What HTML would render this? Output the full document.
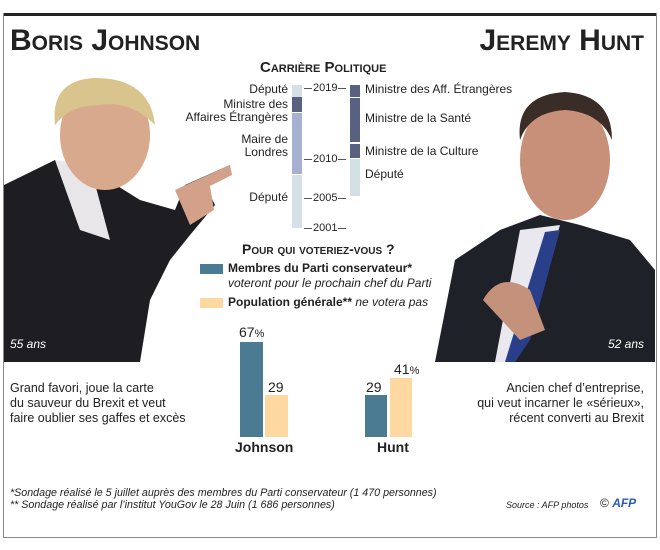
<!DOCTYPE html>
<html><head><meta charset="utf-8"><style>
body{margin:0;width:660px;height:550px;background:#fff;position:relative;overflow:hidden;font-family:"Liberation Sans",sans-serif;color:#222}
.a{position:absolute;white-space:nowrap}
.t{font-size:12px;line-height:13px}
.r{text-align:right}
.tk{position:absolute;height:1px;background:#555}
</style></head><body>
<div class="a" style="left:3px;top:13px;width:654px;height:3px;background:#222"></div>
<div class="a" style="left:3px;top:13px;width:652px;height:524px;border:1px solid #888;border-top:none"></div>
<svg class="a" style="left:0;top:0" width="660" height="550">
 <path d="M4 185 L55 160 L100 175 L140 200 L175 210 L185 185 L230 165 L225 178 L205 185 L215 205 L190 235 L170 260 L150 300 L140 362 L4 362 Z" fill="#1d1d22"/>
 <path d="M55 160 L90 165 L110 240 L80 230 Z" fill="#e8e6e8"/>
 <ellipse cx="105" cy="135" rx="45" ry="55" fill="#d9a98d"/>
 <path d="M55 125 Q50 80 95 78 Q150 78 155 125 Q130 100 100 105 Q70 105 55 125Z" fill="#d8c48c"/>
 <path d="M175 190 L230 165 L232 175 L210 186 L214 210 L190 225 Z" fill="#d3a18a"/>
 <path d="M435 362 L455 260 L500 230 L540 215 L580 225 L630 240 L655 270 L655 362 Z" fill="#1f2128"/>
 <path d="M520 230 L560 225 L530 330 L505 362 L495 362 Z" fill="#e8e8ee"/>
 <path d="M545 232 L560 230 L530 340 L515 362 L505 362 Z" fill="#2a3f8a"/>
 <ellipse cx="565" cy="160" rx="45" ry="60" fill="#c99079"/>
 <path d="M520 140 Q515 95 565 92 Q612 95 612 140 Q600 112 565 110 Q530 112 520 140Z" fill="#3a2c26"/>
 <path d="M483 300 Q500 270 530 290 L545 330 L520 340 Z" fill="#c4917b"/>
</svg>
<div class="a" style="left:10px;top:24px;font-size:30px;font-weight:bold;font-variant:small-caps">Boris Johnson</div>
<div class="a r" style="right:16px;top:24px;font-size:30px;font-weight:bold;font-variant:small-caps">Jeremy Hunt</div>
<div class="a" style="left:260px;top:59px;font-size:15px;font-weight:bold;font-variant:small-caps">Carrière Politique</div>

<div class="a" style="left:292px;top:85px;width:10px;height:12px;background:#d5e0e6"></div>
<div class="a" style="left:292px;top:97px;width:10px;height:15px;background:#58617f"></div>
<div class="a" style="left:292px;top:113px;width:10px;height:61px;background:#a6b0d0"></div>
<div class="a" style="left:292px;top:175px;width:10px;height:53px;background:#d5e0e6"></div>
<div class="a" style="left:350px;top:85px;width:10px;height:12px;background:#58617f"></div>
<div class="a" style="left:350px;top:98px;width:10px;height:44px;background:#58617f"></div>
<div class="a" style="left:350px;top:144px;width:10px;height:14px;background:#58617f"></div>
<div class="a" style="left:350px;top:159px;width:10px;height:37px;background:#d5e0e6"></div>
<div class="a t" style="left:313px;top:82px;font-size:11px">2019</div>
<div class="a t" style="left:313px;top:153px;font-size:11px">2010</div>
<div class="a t" style="left:313px;top:192px;font-size:11px">2005</div>
<div class="a t" style="left:313px;top:222px;font-size:11px">2001</div>
<div class="tk" style="left:304px;top:88px;width:8px"></div><div class="tk" style="left:338px;top:88px;width:8px"></div>
<div class="tk" style="left:304px;top:159px;width:8px"></div><div class="tk" style="left:338px;top:159px;width:8px"></div>
<div class="tk" style="left:304px;top:198px;width:8px"></div><div class="tk" style="left:338px;top:198px;width:8px"></div>
<div class="tk" style="left:304px;top:228px;width:8px"></div><div class="tk" style="left:338px;top:228px;width:8px"></div>

<div class="a t r" style="right:372px;top:83px">Député</div>
<div class="a t r" style="right:372px;top:98px">Ministre des<br>Affaires Étrangères</div>
<div class="a t r" style="right:372px;top:133px">Maire de<br>Londres</div>
<div class="a t r" style="right:372px;top:191px">Député</div>
<div class="a t" style="left:365px;top:83px">Ministre des Aff. Étrangères</div>
<div class="a t" style="left:365px;top:112px">Ministre de la Santé</div>
<div class="a t" style="left:365px;top:145px">Ministre de la Culture</div>
<div class="a t" style="left:365px;top:168px">Député</div>

<div class="a" style="left:242px;top:241px;font-size:14px;font-weight:bold;font-variant:small-caps">Pour qui voteriez-vous ?</div>
<div class="a" style="left:200px;top:264px;width:23px;height:10px;background:#4b7b92"></div>
<div class="a t" style="left:228px;top:262px;font-weight:bold">Membres du Parti conservateur*</div>
<div class="a t" style="left:228px;top:277px;font-style:italic">voteront pour le prochain chef du Parti</div>
<div class="a" style="left:200px;top:298px;width:23px;height:10px;background:#fdd8a0"></div>
<div class="a t" style="left:228px;top:296px"><b>Population générale**</b> <i>ne votera pas</i></div>

<div class="a" style="left:240px;top:342px;width:23px;height:95px;background:#4b7b92"></div>
<div class="a" style="left:265px;top:395px;width:23px;height:42px;background:#fdd8a0"></div>
<div class="a" style="left:365px;top:395px;width:22px;height:42px;background:#4b7b92"></div>
<div class="a" style="left:390px;top:378px;width:22px;height:59px;background:#fdd8a0"></div>
<div class="a" style="left:239px;top:324px;font-size:14px">67<span style="font-size:11px">%</span></div>
<div class="a" style="left:268px;top:379px;font-size:14px">29</div>
<div class="a" style="left:366px;top:379px;font-size:14px">29</div>
<div class="a" style="left:394px;top:361px;font-size:14px">41<span style="font-size:11px">%</span></div>
<div class="a" style="left:235px;top:439px;font-size:14px;font-weight:bold">Johnson</div>
<div class="a" style="left:377px;top:439px;font-size:14px;font-weight:bold">Hunt</div>

<div class="a" style="left:10px;top:337px;font-size:12px;font-style:italic;color:#fff">55 ans</div>
<div class="a" style="right:16px;top:337px;font-size:12px;font-style:italic;color:#fff">52 ans</div>
<div class="a t" style="left:10px;top:381px;line-height:15px;font-size:12.5px">Grand favori, joue la carte<br>du sauveur du Brexit et veut<br>faire oublier ses gaffes et excès</div>
<div class="a t r" style="right:16px;top:381px;line-height:15px;font-size:12.5px">Ancien chef d’entreprise,<br>qui veut incarner le «sérieux»,<br>récent converti au Brexit</div>
<div class="a" style="left:10px;top:487px;font-size:10.7px;font-style:italic;line-height:12px">*Sondage réalisé le 5 juillet auprès des membres du Parti conservateur (1 470 personnes)<br>** Sondage réalisé par l’institut YouGov le 28 Juin (1 686 personnes)</div>
<div class="a" style="left:506px;top:500px;font-size:9px;font-style:italic">Source : AFP photos</div>
<div class="a" style="left:600px;top:496px;font-size:12px">© <b style="color:#2a5db0;font-style:italic">AFP</b></div>
</body></html>
